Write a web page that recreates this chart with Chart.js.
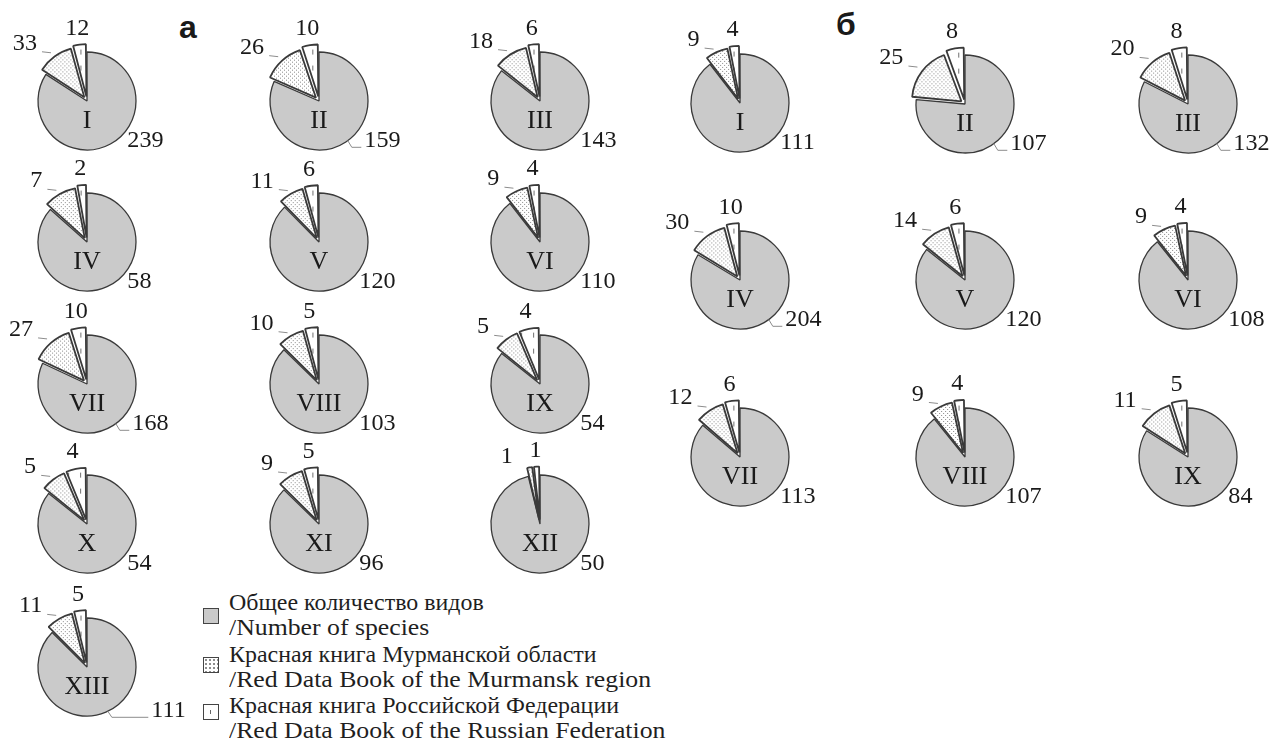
<!DOCTYPE html>
<html>
<head>
<meta charset="utf-8">
<script src="https://cdn.jsdelivr.net/npm/chart.js@4.4.0/dist/chart.umd.min.js"></script>
<style>
  body { margin: 0; background: #fff; width: 1274px; height: 747px; overflow: hidden; position: relative; }
  canvas.pie { position: absolute; }
  .tag { position: absolute; font: bold 32px "Liberation Sans", Arial, sans-serif; color: #1a1a1a; line-height: 1; }
  #legend { position: absolute; left: 0; top: 0; font-family: "Liberation Serif", "Times New Roman", serif; color: #1f1f1f; }
  #legend .line { position: absolute; left: 229px; font-size: 23px; line-height: 25px; white-space: nowrap; transform: scaleX(1.12); transform-origin: left center; }
  #legend .line.ru { transform: scaleX(1.04); }
  #legend .box { position: absolute; left: 203px; width: 14px; height: 14px; border: 1.3px solid #444; }
  .box.gray { background: #cacaca; }
  .box.dots { background-color: #fff; background-image: radial-gradient(#8a8a8a 0.7px, transparent 0.9px); background-size: 4px 4px; }
  .box.dash { background: #fff; }
  .box.dash::after { content: ""; position: absolute; left: 6px; top: 5px; width: 1px; height: 4px; background: #666; }
</style>
</head>
<body>
<div class="tag" style="left:179px; top:11px;">а</div>
<div class="tag" style="left:836px; top:8px;">б</div>

<div id="legend">
  <div class="box gray" style="top:608px;"></div>
  <div class="line ru" style="top:590px;">Общее количество видов</div>
  <div class="line" style="top:615px;">/Number of species</div>
  <div class="box dots" style="top:657px;"></div>
  <div class="line ru" style="top:642px;">Красная книга Мурманской области</div>
  <div class="line" style="top:667px;">/Red Data Book of the Murmansk region</div>
  <div class="box dash" style="top:704px;"></div>
  <div class="line ru" style="top:693px;">Красная книга Российской Федерации</div>
  <div class="line" style="top:718px;">/Red Data Book of the Russian Federation</div>
</div>

<script>
// group а
const namesA = ['I', 'II', 'III', 'IV', 'V', 'VI', 'VII', 'VIII', 'IX', 'X', 'XI', 'XII', 'XIII'];
const totalA = [239, 159, 143, 58, 120, 110, 168, 103, 54, 54, 96, 50, 111];
const murmanskA = [33, 26, 18, 7, 11, 9, 27, 10, 5, 5, 9, 1, 11];
const russiaA = [12, 10, 6, 2, 6, 4, 10, 5, 4, 4, 5, 1, 5];

// group б
const namesB = ['I', 'II', 'III', 'IV', 'V', 'VI', 'VII', 'VIII', 'IX'];
const totalB = [111, 107, 132, 204, 120, 108, 113, 107, 84];
const murmanskB = [9, 25, 20, 30, 14, 9, 12, 9, 11];
const russiaB = [4, 8, 8, 10, 6, 4, 6, 4, 5];

const sliceNames = [
  'Общее количество видов /Number of species',
  'Красная книга Мурманской области /Red Data Book of the Murmansk region',
  'Красная книга Российской Федерации /Red Data Book of the Russian Federation'
];

// page layout: pie centres, and which totals sit on a leader line (extra push in px)
const centresA = [[87, 101], [319, 101], [540, 101], [87, 242], [319, 242], [540, 242],
  [87, 384], [319, 384], [540, 384], [87, 524], [319, 524], [540, 524], [87, 667]];
const centresB = [[740, 103], [965, 104], [1188, 104], [740, 280], [965, 280], [1188, 280],
  [740, 457], [965, 457], [1188, 457]];
const leadersA = { II: 5, VII: 5, XIII: 24 };
const leadersB = { II: 5, III: 5, IV: 5 };

const W = 240, H = 200;
const GRAY = '#cacaca';
const TEXT = '#1a1a1a';

// fill patterns
function tile(w, h, draw) {
  const c = document.createElement('canvas');
  c.width = w; c.height = h;
  const x = c.getContext('2d');
  x.fillStyle = '#fff';
  x.fillRect(0, 0, w, h);
  draw(x);
  return x.createPattern(c, 'repeat');
}
const dots = tile(4, 4, x => {
  x.fillStyle = '#8a8a8a';
  x.fillRect(0, 0, 1, 1);
  x.fillRect(2, 2, 1, 1);
});
const dashes = tile(12, 16, x => {
  x.fillStyle = '#707070';
  x.fillRect(6, 5, 1, 5);
});

function drawText(ctx, txt, x, y, align, sx) {
  ctx.save();
  ctx.translate(x, y);
  ctx.scale(sx, 1);
  ctx.textAlign = align;
  ctx.fillText(txt, 0, 0);
  ctx.restore();
}

const sliceLabels = {
  id: 'sliceLabels',
  afterDatasetsDraw(chart, args, opts) {
    const ctx = chart.ctx;
    const arcs = chart.getDatasetMeta(0).data;
    const vals = chart.data.datasets[0].data;
    const cx = arcs[0].x, cy = arcs[0].y, r = arcs[0].outerRadius;
    ctx.save();
    ctx.fillStyle = TEXT;
    ctx.textBaseline = 'middle';

    // roman numeral
    ctx.font = '26px "Liberation Serif", serif';
    drawText(ctx, opts.name, cx, cy + 20, 'center', 1);

    ctx.font = '23px "Liberation Serif", serif';
    ctx.strokeStyle = '#8c8c8c';
    ctx.lineWidth = 1;

    // total
    let tx = cx + Math.cos(Math.PI / 4) * (r + 8);
    let ty = cy + Math.sin(Math.PI / 4) * (r + 8);
    if (opts.leader !== undefined) {
      tx += opts.leader;
      ty += opts.leader > 10 ? 4 : 0;
      const a = opts.leader > 10 ? Math.PI * 0.36 : Math.PI * 0.3;
      ctx.beginPath();
      ctx.moveTo(cx + Math.cos(a) * r, cy + Math.sin(a) * r);
      ctx.lineTo(cx + Math.cos(a) * r + 4, ty + 6);
      ctx.lineTo(tx - 3, ty + 6);
      ctx.stroke();
    }
    drawText(ctx, vals[0], tx, ty, 'left', 1.05);

    // Murmansk red book
    const m = arcs[1];
    const mid = (m.startAngle + m.endAngle) / 2;
    const qx = cx + Math.cos(mid) * (r + 7), qy = cy + Math.sin(mid) * (r + 7);
    if (m.endAngle - m.startAngle > 0.2) {
      ctx.beginPath();
      ctx.moveTo(qx - 12, qy - 4);
      ctx.lineTo(qx - 3, qy - 3);
      ctx.stroke();
    }
    drawText(ctx, vals[1], qx - 17, qy - 12, 'right', 1.05);

    // Russian red book
    const w = arcs[2];
    const mid2 = (w.startAngle + w.endAngle) / 2;
    drawText(ctx, vals[2], cx + Math.cos(mid2) * (r + 24), cy + Math.sin(mid2) * (r + 24), 'center', 1.05);
    ctx.restore();
  }
};

function makePie(name, total, murm, rus, centre, leader) {
  const c = document.createElement('canvas');
  c.width = W; c.height = H;
  c.className = 'pie';
  c.style.left = (centre[0] - W / 2) + 'px';
  c.style.top = (centre[1] - H / 2) + 'px';
  document.body.appendChild(c);
  new Chart(c, {
    type: 'pie',
    data: {
      labels: sliceNames,
      datasets: [{
        data: [total, murm, rus],
        backgroundColor: [GRAY, dots, dashes],
        borderColor: '#3a3a3a',
        borderWidth: [1.3, 1.8, 1.8],
        offset: [0, 18, 18],
        radius: 49
      }]
    },
    options: {
      responsive: false,
      animation: false,
      events: [],
      layout: { padding: 0 },
      plugins: {
        legend: { display: false },
        tooltip: { enabled: false },
        sliceLabels: { name: name, leader: leader }
      }
    },
    plugins: [sliceLabels]
  });
}

namesA.forEach((n, i) => makePie(n, totalA[i], murmanskA[i], russiaA[i], centresA[i], leadersA[n]));
namesB.forEach((n, i) => makePie(n, totalB[i], murmanskB[i], russiaB[i], centresB[i], leadersB[n]));
</script>
</body>
</html>
